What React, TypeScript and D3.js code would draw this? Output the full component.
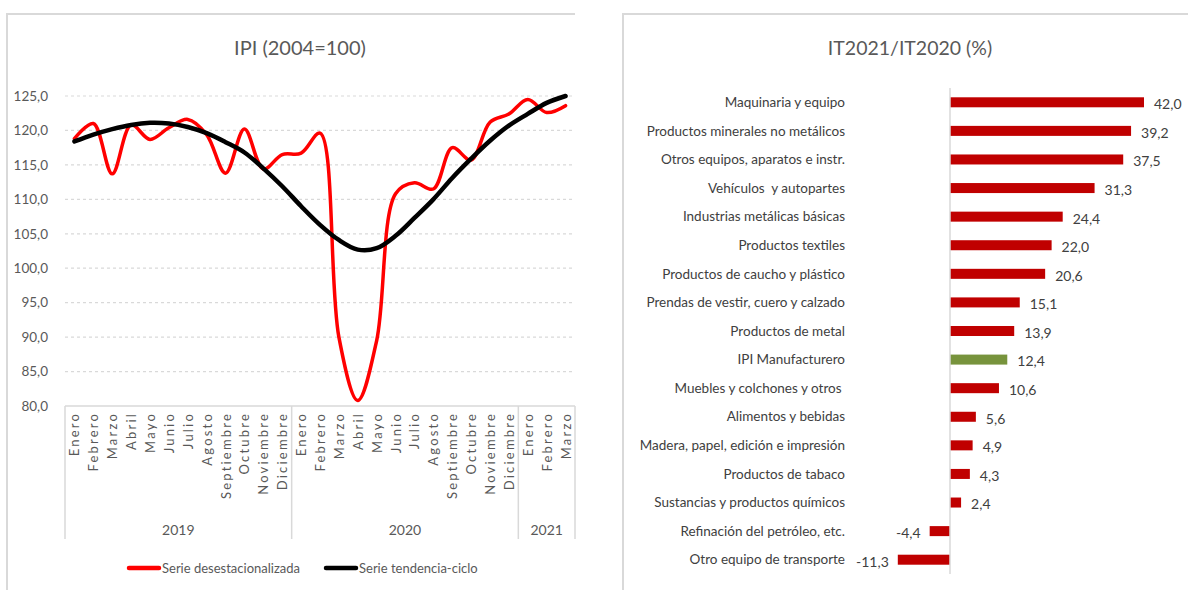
import * as d3 from 'd3';

const MONTHS = ['Enero', 'Febrero', 'Marzo', 'Abril', 'Mayo', 'Junio', 'Julio', 'Agosto', 'Septiembre', 'Octubre', 'Noviembre', 'Diciembre'];
const YEARS = [
  { year: '2019', months: 12 },
  { year: '2020', months: 12 },
  { year: '2021', months: 3 },
];

// IPI (2004=100), Ene 2019 .. Mar 2021
const DESEST = [
  118.8, 121.0, 113.7, 120.8, 118.7, 120.4, 121.6, 119.4, 113.8, 120.2, 114.4, 116.5,
  116.7, 119.6, 90.0, 80.8, 89.5, 110.8, 112.4, 111.5, 117.5, 115.7, 121.2, 122.4,
  124.5, 122.6, 123.6,
];
const TENDENCIA = [
  118.4, 119.4, 120.2, 120.8, 121.1, 121.0, 120.5, 119.6, 118.3, 116.8, 114.5, 111.9,
  109.0, 106.3, 104.1, 102.7, 102.9, 104.7, 107.3, 110.0, 113.1, 115.9, 118.5, 120.7,
  122.4, 124.0, 125.0,
];
const Y_TICKS = [80, 85, 90, 95, 100, 105, 110, 115, 120, 125];

// IT2021/IT2020 (%)
const SECTORES = [
  'Maquinaria y equipo',
  'Productos minerales no metálicos',
  'Otros equipos, aparatos e instr.',
  'Vehículos  y autopartes',
  'Industrias metálicas básicas',
  'Productos textiles',
  'Productos de caucho y plástico',
  'Prendas de vestir, cuero y calzado',
  'Productos de metal',
  'IPI Manufacturero',
  'Muebles y colchones y otros ',
  'Alimentos y bebidas',
  'Madera, papel, edición e impresión',
  'Productos de tabaco',
  'Sustancias y productos químicos',
  'Refinación del petróleo, etc.',
  'Otro equipo de transporte',
];
const VARIACION = [42.0, 39.2, 37.5, 31.3, 24.4, 22.0, 20.6, 15.1, 13.9, 12.4, 10.6, 5.6, 4.9, 4.3, 2.4, -4.4, -11.3];
const TOTAL = 'IPI Manufacturero';

const FONT = 'Lato, "Open Sans", sans-serif';
const GRAY = '#595959';
const DARK = '#404040';
const BORDER = '#d9d9d9';

const fmt = (v: number) => d3.format('.1f')(v).replace('.', ',').replace('−', '-');

export default function App() {
  // left chart scales
  const monthLabels = YEARS.flatMap((y) => MONTHS.slice(0, y.months));
  const idx = d3.range(monthLabels.length);
  const x = d3.scaleBand<number>().domain(idx).range([65, 575]).padding(0);
  const cx = (i: number) => (x(i) ?? 0) + x.bandwidth() / 2;
  const y = d3.scaleLinear().domain([80, 125]).range([406, 96]);
  const line = d3.line<number>().x((_, i) => cx(i)).y((d) => y(d)).curve(d3.curveCatmullRom.alpha(0.5));

  let acc = 0;
  const groups = YEARS.map((g) => {
    const start = acc;
    acc += g.months;
    return { ...g, start, end: acc };
  });
  const sepX = (k: number) => (k >= monthLabels.length ? x.range()[1] : x(k) ?? 0);

  // right chart scales
  const yb = d3.scaleBand<string>().domain(SECTORES).range([88, 574]).paddingInner(0.65).paddingOuter(0.325);
  const xb = d3.scaleLinear().domain([-11.3, 42]).range([897.8, 1144]);
  const zero = xb(0);

  return (
    <svg width={1188} height={590} style={{ position: 'absolute', left: 0, top: 0, background: '#fff' }} fontFamily={FONT}>
      {/* panel frames */}
      <path d="M7,590V14H575" fill="none" stroke={BORDER} strokeWidth={2} />
      <path d="M623,590V14H1188" fill="none" stroke={BORDER} strokeWidth={2} />

      {/* ---------- Left: IPI ---------- */}
      <text x={300} y={55} textAnchor="middle" fontSize={20} fill={GRAY}>IPI (2004=100)</text>

      {Y_TICKS.map((t) => (
        <g key={t}>
          {t > 80 && (
            <line x1={65} x2={575} y1={y(t)} y2={y(t)} stroke={BORDER} strokeWidth={1.2} strokeDasharray="3,3" />
          )}
          <text x={48} y={y(t)} dy="0.35em" textAnchor="end" fontSize={13.5} fill={GRAY}>{fmt(t)}</text>
        </g>
      ))}

      <line x1={65} x2={575} y1={406} y2={406} stroke={BORDER} strokeWidth={1.5} />
      {[0, ...groups.map((g) => g.end)].map((k) => (
        <line key={k} x1={sepX(k)} x2={sepX(k)} y1={406} y2={539} stroke={BORDER} strokeWidth={1.5} />
      ))}

      {monthLabels.map((m, i) => (
        <text key={i} transform={`translate(${cx(i) + 5},${412}) rotate(-90)`} textAnchor="end" fontSize={13}
          letterSpacing={2.2} fill={GRAY}>{m}</text>
      ))}

      {groups.map((g) => (
        <text key={g.year} x={(sepX(g.start) + sepX(g.end)) / 2} y={535} textAnchor="middle" fontSize={14} fill={GRAY}>
          {g.year}
        </text>
      ))}

      <path d={line(DESEST) ?? ''} fill="none" stroke="#ff0000" strokeWidth={3.5} strokeLinejoin="round" strokeLinecap="round" />
      <path d={line(TENDENCIA) ?? ''} fill="none" stroke="#000" strokeWidth={4.5} strokeLinejoin="round" strokeLinecap="round" />

      {/* legend */}
      <line x1={129} x2={159} y1={568} y2={568} stroke="#ff0000" strokeWidth={4.5} strokeLinecap="round" />
      <text x={162} y={568} dy="0.35em" fontSize={13} fill={GRAY}>Serie desestacionalizada</text>
      <line x1={326} x2={356} y1={568} y2={568} stroke="#000" strokeWidth={4.5} strokeLinecap="round" />
      <text x={359} y={568} dy="0.35em" fontSize={13} fill={GRAY}>Serie tendencia-ciclo</text>

      {/* ---------- Right: IT2021/IT2020 ---------- */}
      <text x={910} y={55} textAnchor="middle" fontSize={19.5} fill={GRAY}>IT2021/IT2020 (%)</text>

      {SECTORES.map((s, i) => {
        const v = VARIACION[i];
        const top = yb(s) ?? 0;
        const mid = top + yb.bandwidth() / 2;
        return (
          <g key={s}>
            <rect x={Math.min(zero, xb(v))} y={top} width={Math.abs(xb(v) - zero)} height={yb.bandwidth()}
              fill={s === TOTAL ? '#77933c' : '#c00000'} />
            <text x={845} y={mid} dy="0.35em" textAnchor="end" fontSize={13.5} fill={DARK} style={{ whiteSpace: 'pre' }}>{s}</text>
            <text x={v >= 0 ? xb(v) + 10 : xb(v) - 9} y={mid + 2} dy="0.35em" textAnchor={v >= 0 ? 'start' : 'end'}
              fontSize={14} fill={DARK}>{fmt(v)}</text>
          </g>
        );
      })}
      <line x1={zero} x2={zero} y1={88} y2={574} stroke={BORDER} strokeWidth={1.5} />
    </svg>
  );
}
